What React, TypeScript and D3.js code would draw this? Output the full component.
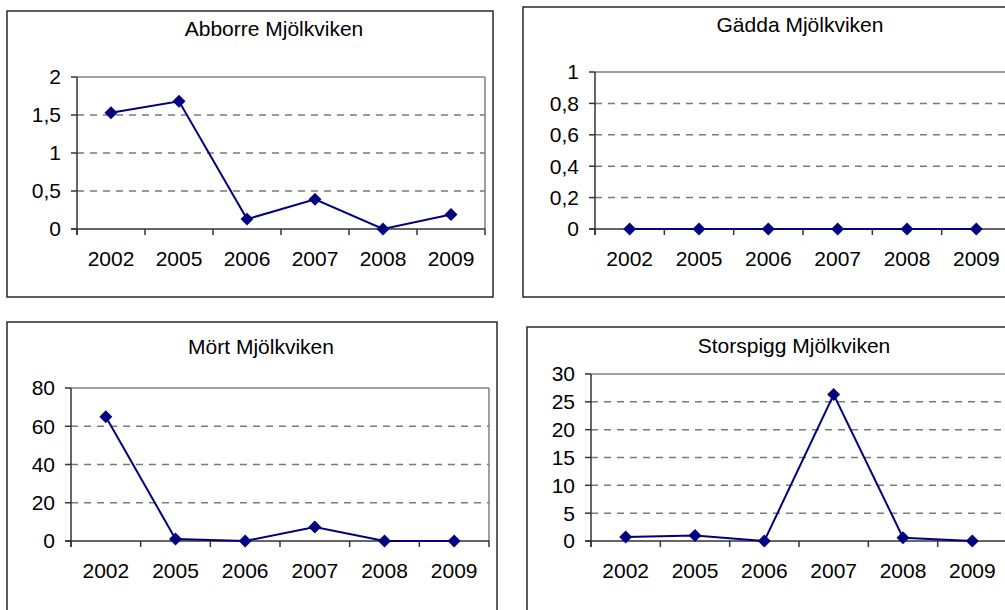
import React from "react";
import * as d3 from "d3";

const years = ["2002", "2005", "2006", "2007", "2008", "2009"];

const abborreValues = [1.53, 1.68, 0.13, 0.39, 0, 0.19];
const gaddaValues = [0, 0, 0, 0, 0, 0];
const mortValues = [65, 1, 0, 7.3, 0, 0];
const storspiggValues = [0.7, 1, 0, 26.3, 0.6, 0];

const abborreTicks = [0, 0.5, 1, 1.5, 2];
const gaddaTicks = [0, 0.2, 0.4, 0.6, 0.8, 1];
const mortTicks = [0, 20, 40, 60, 80];
const storspiggTicks = [0, 5, 10, 15, 20, 25, 30];

const titles = ["Abborre Mjölkviken", "Gädda Mjölkviken", "Mört Mjölkviken", "Storspigg Mjölkviken"];

const locale = d3.formatLocale({ decimal: ",", thousands: " ", grouping: [3], currency: ["", ""] });
const fmt = locale.format("~g");

const FONT = "'Liberation Sans', Arial, sans-serif";
const NAVY = "#000080";

type Rect = { x: number; y: number; w: number; h: number };

type PanelProps = {
  title: string;
  values: number[];
  ticks: number[];
  frame: Rect;
  plot: Rect;
  titlePos: { x: number; y: number };
};

function Panel({ title, values, ticks, frame, plot, titlePos }: PanelProps) {
  const x = d3.scaleBand<string>().domain(years).range([plot.x, plot.x + plot.w]);
  const y = d3.scaleLinear().domain([ticks[0], ticks[ticks.length - 1]]).range([plot.y + plot.h, plot.y]);
  const data = years.map((yr, i) => ({ yr, v: values[i] }));
  const line = d3
    .line<{ yr: string; v: number }>()
    .x((d) => (x(d.yr) as number) + x.bandwidth() / 2)
    .y((d) => y(d.v));
  const marker = d3.symbol(d3.symbolSquare, 84)() as string;
  const boundaries = years.map((yr) => x(yr) as number).concat([plot.x + plot.w]);
  const bottom = plot.y + plot.h;
  return (
    <g>
      <rect x={frame.x} y={frame.y} width={frame.w} height={frame.h} fill="#fff" stroke="#2a2a2a" strokeWidth={1.5} />
      <text x={titlePos.x} y={titlePos.y} textAnchor="middle" dy="0.35em" fontFamily={FONT} fontSize={21} fill="#000">
        {title}
      </text>
      {ticks.slice(1, -1).map((t) => (
        <line key={t} x1={plot.x} x2={plot.x + plot.w} y1={y(t)} y2={y(t)} stroke="#7a7a7a" strokeWidth={1.5} strokeDasharray="7,6" />
      ))}
      <line x1={plot.x} x2={plot.x + plot.w} y1={plot.y} y2={plot.y} stroke="#808080" strokeWidth={1.5} />
      <line x1={plot.x + plot.w} x2={plot.x + plot.w} y1={plot.y} y2={bottom} stroke="#808080" strokeWidth={1.5} />
      <line x1={plot.x} x2={plot.x} y1={plot.y} y2={bottom + 6} stroke="#333" strokeWidth={1.5} />
      {ticks.map((t) => (
        <g key={t}>
          <line x1={plot.x - 6} x2={plot.x} y1={y(t)} y2={y(t)} stroke="#333" strokeWidth={1.5} />
          <text x={plot.x - 16} y={y(t)} dy="0.35em" textAnchor="end" fontFamily={FONT} fontSize={21} fill="#000">
            {fmt(t)}
          </text>
        </g>
      ))}
      <line x1={plot.x - 6} x2={plot.x + plot.w} y1={bottom} y2={bottom} stroke="#333" strokeWidth={1.5} />
      {boundaries.map((bx, i) => (
        <line key={i} x1={bx} x2={bx} y1={bottom} y2={bottom + 6} stroke="#333" strokeWidth={1.5} />
      ))}
      {years.map((yr) => (
        <text key={yr} x={(x(yr) as number) + x.bandwidth() / 2} y={bottom + 30} dy="0.35em" textAnchor="middle" fontFamily={FONT} fontSize={21} fill="#000">
          {yr}
        </text>
      ))}
      <path d={line(data) as string} fill="none" stroke={NAVY} strokeWidth={2} />
      {data.map((d) => (
        <path
          key={d.yr}
          d={marker}
          fill={NAVY}
          transform={`translate(${(x(d.yr) as number) + x.bandwidth() / 2},${y(d.v)}) rotate(45)`}
        />
      ))}
    </g>
  );
}

export default function App() {
  const panels: PanelProps[] = [
    {
      title: titles[0],
      values: abborreValues,
      ticks: abborreTicks,
      frame: { x: 7, y: 11, w: 486, h: 286 },
      plot: { x: 77, y: 77, w: 408, h: 152 },
      titlePos: { x: 274, y: 29 },
    },
    {
      title: titles[1],
      values: gaddaValues,
      ticks: gaddaTicks,
      frame: { x: 523, y: 7, w: 500, h: 290 },
      plot: { x: 595, y: 72, w: 416, h: 157 },
      titlePos: { x: 800, y: 25 },
    },
    {
      title: titles[2],
      values: mortValues,
      ticks: mortTicks,
      frame: { x: 7, y: 322, w: 490, h: 300 },
      plot: { x: 71, y: 388, w: 418, h: 153 },
      titlePos: { x: 261, y: 347 },
    },
    {
      title: titles[3],
      values: storspiggValues,
      ticks: storspiggTicks,
      frame: { x: 527, y: 327, w: 500, h: 300 },
      plot: { x: 591, y: 374, w: 416, h: 167 },
      titlePos: { x: 794, y: 346 },
    },
  ];
  return (
    <svg width={1005} height={610} style={{ position: "absolute", left: 0, top: 0, background: "#fff" }}>
      <rect x={0} y={0} width={1005} height={610} fill="#fff" />
      {panels.map((p) => (
        <Panel key={p.title} {...p} />
      ))}
    </svg>
  );
}
